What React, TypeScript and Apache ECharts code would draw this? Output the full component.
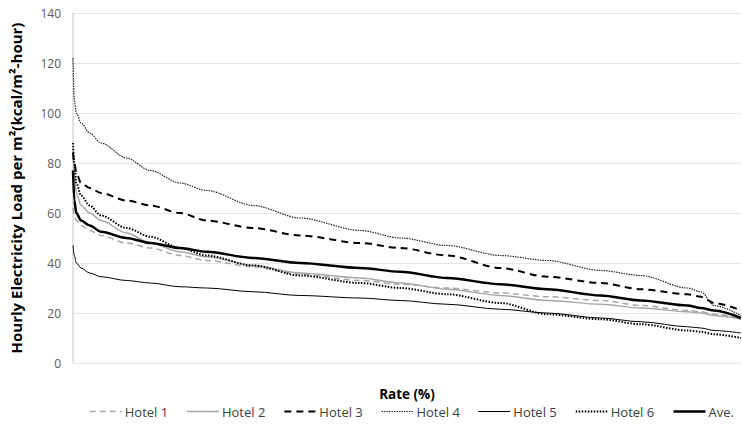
import React, { useEffect, useRef } from "react";
import * as echarts from "echarts";

const rates = [0, 0.2, 0.5, 1.2, 2.5, 4.2, 8, 11.6, 16, 20, 27, 34, 43, 49, 56, 64, 71, 79, 85, 92, 94, 96, 100];
const hotel1 = [62, 59, 57, 55, 53, 51, 48, 46, 43, 41, 38.5, 35.5, 33, 31.5, 30, 28, 26.5, 25, 23, 21, 20.5, 19.5, 18];
const hotel2 = [85, 75, 68, 63, 60, 57, 52, 48, 44.5, 42.5, 39, 36, 34, 32, 29.5, 27, 25, 23.5, 22, 20.5, 20, 19, 17.5];
const hotel3 = [84, 80, 76, 72, 70, 68, 65, 63, 60, 57, 54, 51, 48, 46, 43, 38, 34.5, 32, 29.5, 27.5, 26.5, 24, 21];
const hotel4 = [122, 105, 100, 96, 92, 88, 82, 77, 72, 69, 63, 58, 53, 50, 47, 43, 41, 37, 35, 30, 28.5, 23, 19];
const hotel5 = [47, 43, 40, 38, 36, 34.5, 33, 32, 30.5, 30, 28.5, 27, 26, 25, 23.5, 21.5, 20, 18, 16.5, 14.5, 14, 13, 12];
const hotel6 = [88, 80, 72, 67, 63, 59, 54, 50.5, 46, 43, 39, 35, 32, 30, 27.5, 24, 19.5, 17.5, 15.5, 13, 12.5, 11.5, 10];
const average = [77, 65, 60, 57, 55, 52.5, 50, 48, 46, 44.5, 42, 40, 38, 36.5, 34, 31.5, 29.5, 27, 25, 23, 22, 21, 18];
const yTicks = [0, 20, 40, 60, 80, 100, 120, 140];

const seriesDefs = [
  { name: "Hotel 1", data: hotel1, color: "#a6a6a6", width: 1.5, type: [6, 4] as any },
  { name: "Hotel 2", data: hotel2, color: "#a6a6a6", width: 1.5, type: "solid" as any },
  { name: "Hotel 3", data: hotel3, color: "#000000", width: 2, type: [7, 5] as any },
  { name: "Hotel 4", data: hotel4, color: "#262626", width: 1.2, type: [1.5, 1] as any },
  { name: "Hotel 5", data: hotel5, color: "#000000", width: 1, type: "solid" as any },
  { name: "Hotel 6", data: hotel6, color: "#000000", width: 2, type: [1.5, 1.5] as any },
  { name: "Ave.", data: average, color: "#000000", width: 2.5, type: "solid" as any },
];

export default function App() {
  const ref = useRef<HTMLDivElement>(null);
  useEffect(() => {
    if (!ref.current) return;
    const chart = echarts.init(ref.current, null, { renderer: "svg" });
    chart.setOption({
      animation: false,
      textStyle: { fontFamily: "Open Sans" },
      grid: { left: 72, right: 1, top: 13, bottom: 63, containLabel: false },
      legend: {
        bottom: 3,
        left: 84,
        itemWidth: 32,
        itemHeight: 8,
        itemGap: 18,
        itemStyle: { color: "transparent", borderWidth: 0, opacity: 0 },
        lineStyle: { width: "inherit" },
        textStyle: { fontSize: 13, color: "#404040", fontFamily: "Open Sans", padding: [0, 0, 0, -2] },
        data: seriesDefs.map((s) => s.name),
      },
      xAxis: {
        type: "value",
        min: 0,
        max: 100,
        name: "Rate (%)",
        nameLocation: "middle",
        nameGap: 24,
        nameTextStyle: { fontWeight: "bold", fontSize: 13.5, color: "#000" },
        axisLine: { show: false },
        axisTick: { show: false },
        axisLabel: { show: false },
        splitLine: { show: false },
      },
      yAxis: {
        type: "value",
        min: yTicks[0],
        max: yTicks[yTicks.length - 1],
        interval: 20,
        name: "Hourly Electricity Load per m²(kcal/m²-hour)",
        nameLocation: "middle",
        nameGap: 50,
        nameRotate: 90,
        nameTextStyle: { fontWeight: "bold", fontSize: 15, color: "#000" },
        axisLine: { show: true, lineStyle: { color: "#d9d9d9", width: 1.5 } },
        axisTick: { show: false },
        axisLabel: { fontSize: 12, color: "#595959", margin: 12 },
        splitLine: { show: true, lineStyle: { color: "#e6e6e6", width: 1 } },
      },
      series: seriesDefs.map((s) => ({
        name: s.name,
        type: "line",
        symbol: "none",
        smooth: 0.3,
        smoothMonotone: "x",
        data: rates.map((r, i) => [r, s.data[i]]),
        lineStyle: { color: s.color, width: s.width, type: s.type },
        itemStyle: { color: s.color },
      })),
    });
    return () => chart.dispose();
  }, []);
  return <div ref={ref} style={{ width: 742, height: 426, position: "absolute", left: 0, top: 0 }} />;
}
